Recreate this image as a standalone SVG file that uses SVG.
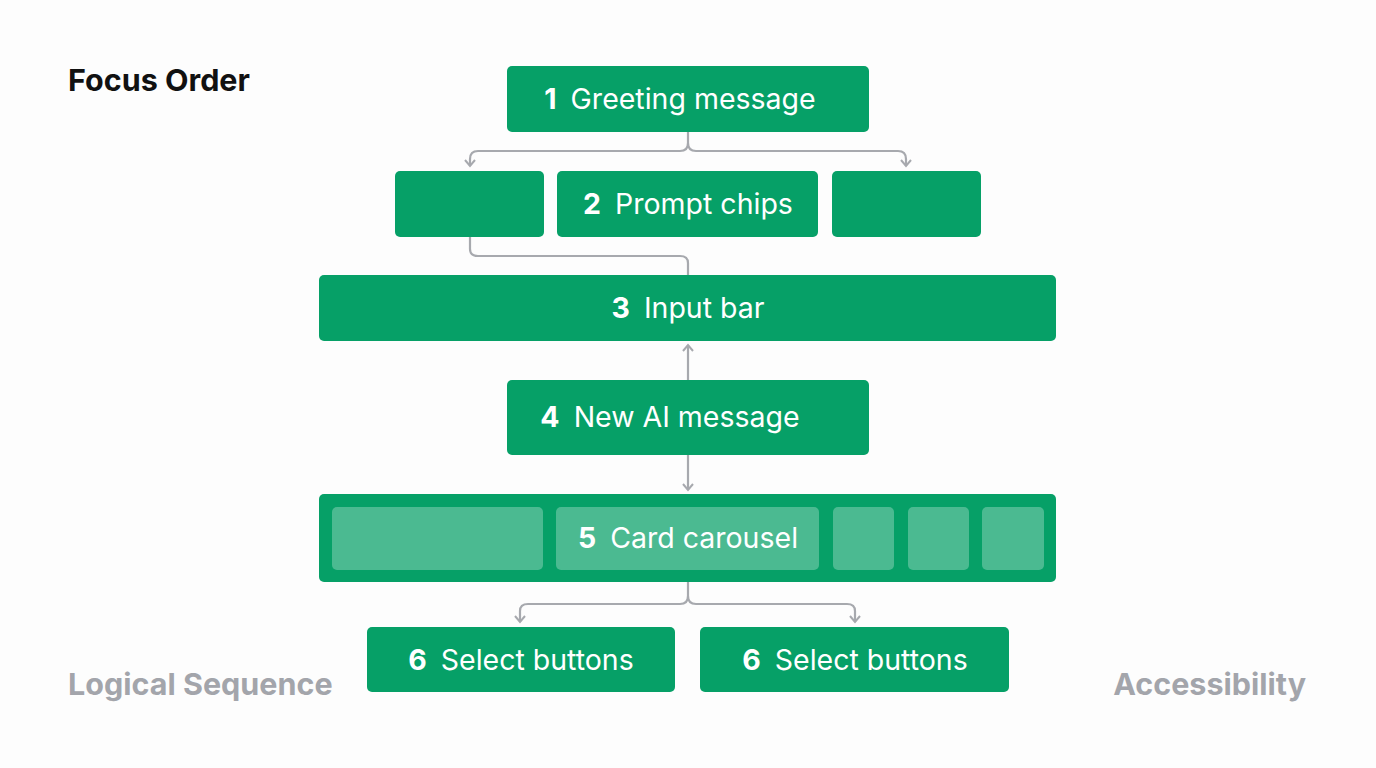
<svg xmlns="http://www.w3.org/2000/svg" width="1376" height="768" viewBox="0 0 1376 768">
<defs>
<style>
.n{fill:#06a067}
.c{fill:#ffffff;fill-opacity:0.28}
.t{font-family:"Inter","Liberation Sans",sans-serif;font-size:28.5px;fill:#fff;text-anchor:middle}
.b{font-weight:700}
.l{fill:none;stroke:#a7a9ae;stroke-width:2.2}
.g{font-family:"Inter","Liberation Sans",sans-serif;font-size:30.5px;font-weight:700;fill:#a3a5ab}
</style>
<marker id="a" viewBox="0 0 12 12" refX="10" refY="6" markerWidth="12" markerHeight="12" markerUnits="userSpaceOnUse" orient="auto">
<path d="M4,1 L10,6 L4,11" fill="none" stroke="#a7a9ae" stroke-width="2"/>
</marker>
</defs>
<rect width="1376" height="768" fill="#fdfdfd"/>
<text x="68" y="91" font-family="Inter,'Liberation Sans',sans-serif" font-size="30.5" font-weight="700" fill="#111">Focus Order</text>
<text class="g" x="68" y="695">Logical Sequence</text>
<text class="g" x="1306" y="695" text-anchor="end">Accessibility</text>
<g id="connectors">
<path class="l" d="M688,132 V143 Q688,151 680,151 H478 Q470,151 470,159 V166" marker-end="url(#a)"/>
<path class="l" d="M688,143 Q688,151 696,151 H898 Q906,151 906,159 V166" marker-end="url(#a)"/>
<path class="l" d="M470,237 V249 Q470,256 478,256 H680 Q688,256 688,263 V275"/>
<path class="l" d="M688,380 V345" marker-end="url(#a)"/>
<path class="l" d="M688,455 V490" marker-end="url(#a)"/>
<path class="l" d="M688,582 V596 Q688,604 680,604 H528 Q520,604 520,611 V622" marker-end="url(#a)"/>
<path class="l" d="M688,596 Q688,604 696,604 H847 Q855,604 855,611 V622" marker-end="url(#a)"/>
</g>
<g id="n1"><rect class="n" x="507" y="66" width="362" height="66" rx="5"/><text class="t" x="680" y="109"><tspan class="b">1</tspan><tspan dx="14">Greeting message</tspan></text></g>
<g id="n2a"><rect class="n" x="395" y="171" width="149" height="66" rx="5"/></g>
<g id="n2"><rect class="n" x="557" y="171" width="261" height="66" rx="5"/><text class="t" x="688" y="214"><tspan class="b">2</tspan><tspan dx="14">Prompt chips</tspan></text></g>
<g id="n2b"><rect class="n" x="832" y="171" width="149" height="66" rx="5"/></g>
<g id="n3"><rect class="n" x="319" y="275" width="737" height="66" rx="5"/><text class="t" x="688" y="318"><tspan class="b">3</tspan><tspan dx="14">Input bar</tspan></text></g>
<g id="n4"><rect class="n" x="507" y="380" width="362" height="75" rx="5"/><text class="t" x="670" y="427"><tspan class="b">4</tspan><tspan dx="14">New AI message</tspan></text></g>
<g id="n5"><rect class="n" x="319" y="494" width="737" height="88" rx="5"/>
<rect class="c" x="332" y="507" width="211" height="63" rx="5"/>
<rect class="c" x="556" y="507" width="263" height="63" rx="5"/>
<rect class="c" x="833" y="507" width="61" height="63" rx="5"/>
<rect class="c" x="908" y="507" width="61" height="63" rx="5"/>
<rect class="c" x="982" y="507" width="62" height="63" rx="5"/>
<text class="t" x="688" y="548"><tspan class="b">5</tspan><tspan dx="14">Card carousel</tspan></text></g>
<g id="n6a"><rect class="n" x="367" y="627" width="308" height="65" rx="5"/><text class="t" x="521" y="670"><tspan class="b">6</tspan><tspan dx="14">Select buttons</tspan></text></g>
<g id="n6b"><rect class="n" x="700" y="627" width="309" height="65" rx="5"/><text class="t" x="855" y="670"><tspan class="b">6</tspan><tspan dx="14">Select buttons</tspan></text></g>
</svg>
